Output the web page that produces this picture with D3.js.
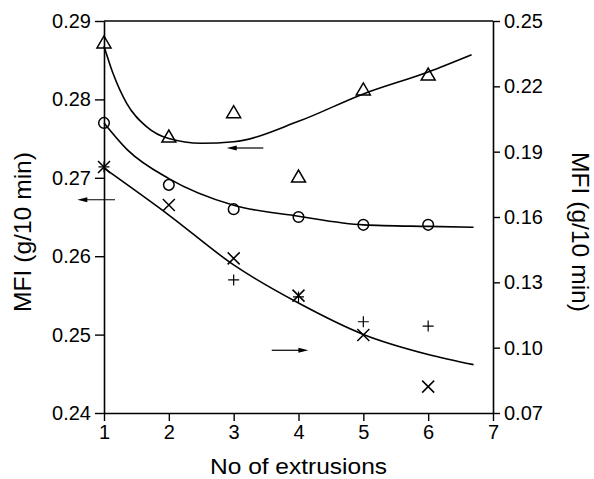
<!DOCTYPE html>
<html>
<head>
<meta charset="utf-8">
<script src="https://cdn.jsdelivr.net/npm/d3@7"></script>
<style>
  body { margin: 0; background: #fff; }
  svg { font-family: "Liberation Sans", Arial, sans-serif; }
</style>
</head>
<body>
<svg id="chart" width="594" height="479"></svg>
<script>
// measured data (left axis: triangles, circles; right axis: crosses, pluses)
var triX = [1, 2, 3, 4, 5, 6];
var triY = [0.2872, 0.2752, 0.2783, 0.2701, 0.2812, 0.2831];
var circX = [1, 2, 3, 4, 5, 6];
var circY = [0.2770, 0.2691, 0.2660, 0.2650, 0.2640, 0.2640];
var crossX = [1, 2, 3, 4, 5, 6];
var crossY = [0.1830, 0.1655, 0.1410, 0.1239, 0.1058, 0.0821];
var plusX = [1, 3, 4, 5, 6];
var plusY = [0.1830, 0.1311, 0.1233, 0.1119, 0.1099];

// fitted curves
var triFitX = [1, 1.14, 1.35, 1.66, 2, 2.5, 3, 4, 5, 6, 6.67];
var triFitY = [0.2868, 0.2833, 0.2795, 0.2765, 0.2750, 0.2744, 0.2746, 0.2772, 0.2807, 0.2835, 0.2857];
var circFitX = [1, 1.37, 2, 3, 4, 5, 6, 6.7];
var circFitY = [0.2770, 0.2735, 0.2699, 0.2665, 0.2651, 0.2640, 0.2638, 0.2637];
var crossFitX = [1, 2, 3, 4, 5, 6, 6.7];
var crossFitY = [0.1824, 0.1609, 0.1380, 0.1205, 0.1061, 0.0969, 0.0922];

// arrows: [x from, x to, y] in left-axis units (head at "to")
var arrows = [[3.457, 2.893, 0.2738], [1.17, 0.588, 0.2672], [3.587, 4.152, 0.2480]];

var xTicks = [1, 2, 3, 4, 5, 6, 7];
var leftTicks = [0.24, 0.25, 0.26, 0.27, 0.28, 0.29];
var rightTicks = [0.07, 0.10, 0.13, 0.16, 0.19, 0.22, 0.25];

var svg = d3.select("#chart");
var m = {left: 104, right: 493, top: 21, bottom: 413};

var x = d3.scaleLinear().domain([1, 7]).range([m.left, m.right]);
var yL = d3.scaleLinear().domain([0.24, 0.29]).range([m.bottom, m.top]);
var yR = d3.scaleLinear().domain([0.07, 0.25]).range([m.bottom, m.top]);

function styleAxis(g) {
    g.select(".domain").attr("stroke-width", 1.6);
    g.selectAll(".tick line").attr("stroke-width", 1.4);
    g.selectAll("text").attr("font-size", 20).attr("fill", "#000")
        .attr("font-family", "Liberation Sans, Arial, sans-serif");
}

svg.append("g").attr("transform", "translate(" + m.left + ",0)")
    .call(d3.axisLeft(yL).tickValues(leftTicks).tickFormat(d3.format(".2f")).tickSize(9).tickSizeOuter(0).tickPadding(4))
    .call(styleAxis);

svg.append("g").attr("transform", "translate(" + m.right + ",0)")
    .call(d3.axisRight(yR).tickValues(rightTicks).tickFormat(d3.format(".2f")).tickSize(7).tickSizeOuter(0).tickPadding(4))
    .call(styleAxis);

svg.append("g").attr("transform", "translate(0," + m.bottom + ")")
    .call(d3.axisBottom(x).tickValues(xTicks).tickFormat(d3.format("d")).tickSize(8).tickSizeOuter(0).tickPadding(4))
    .call(styleAxis);

// top frame line
svg.append("line")
    .attr("x1", m.left).attr("x2", m.right)
    .attr("y1", m.top).attr("y2", m.top)
    .attr("stroke", "#000").attr("stroke-width", 1.6);

// titles
svg.append("text")
    .attr("transform", "translate(" + (m.left + m.right) / 2 + ",474) ")
    .attr("text-anchor", "middle").attr("font-size", 22)
    .attr("textLength", 177).attr("lengthAdjust", "spacingAndGlyphs")
    .text("No of extrusions");

svg.append("text")
    .attr("transform", "translate(31,232) rotate(-90)")
    .attr("text-anchor", "middle").attr("font-size", 24)
    .attr("textLength", 160).attr("lengthAdjust", "spacingAndGlyphs")
    .text("MFI (g/10 min)");

svg.append("text")
    .attr("transform", "translate(572,232) rotate(90)")
    .attr("text-anchor", "middle").attr("font-size", 24)
    .attr("textLength", 160).attr("lengthAdjust", "spacingAndGlyphs")
    .text("MFI (g/10 min)");

// fitted curves
function fitLine(xs, ys, ys_scale) {
    var pts = xs.map(function(d, i) { return [x(d), ys_scale(ys[i])]; });
    svg.append("path")
        .attr("d", d3.line().curve(d3.curveMonotoneX)(pts))
        .attr("fill", "none").attr("stroke", "#000").attr("stroke-width", 1.6);
}
fitLine(triFitX, triFitY, yL);
fitLine(circFitX, circFitY, yL);
fitLine(crossFitX, crossFitY, yR);

// markers
var mk = svg.append("g").attr("fill", "none").attr("stroke", "#000").attr("stroke-width", 1.5);

triX.forEach(function(d, i) {
    var cx = x(d), cy = yL(triY[i]);
    mk.append("path").attr("d", "M" + (cx - 7) + "," + (cy + 5) + "L" + cx + "," + (cy - 7) + "L" + (cx + 7) + "," + (cy + 5) + "Z");
});
circX.forEach(function(d, i) {
    mk.append("circle").attr("cx", x(d)).attr("cy", yL(circY[i])).attr("r", 5.3);
});
crossX.forEach(function(d, i) {
    var cx = x(d), cy = yR(crossY[i]), s = 6;
    mk.append("path").attr("d", "M" + (cx - s) + "," + (cy - s) + "L" + (cx + s) + "," + (cy + s) +
        "M" + (cx - s) + "," + (cy + s) + "L" + (cx + s) + "," + (cy - s));
});
plusX.forEach(function(d, i) {
    var cx = x(d), cy = yR(plusY[i]), s = 5.5;
    mk.append("path").attr("stroke-width", 1.2)
        .attr("d", "M" + (cx - s) + "," + cy + "L" + (cx + s) + "," + cy + "M" + cx + "," + (cy - s) + "L" + cx + "," + (cy + s));
});

// arrows
arrows.forEach(function(a) {
    var x0 = x(a[0]), x1 = x(a[1]), yy = yL(a[2]);
    var dir = x1 > x0 ? 1 : -1;
    svg.append("line").attr("x1", x0).attr("x2", x1 - dir * 6).attr("y1", yy).attr("y2", yy)
        .attr("stroke", "#000").attr("stroke-width", 1.2);
    svg.append("path")
        .attr("d", "M" + x1 + "," + yy + "L" + (x1 - dir * 10) + "," + (yy - 2.5) + "L" + (x1 - dir * 10) + "," + (yy + 2.5) + "Z")
        .attr("fill", "#000");
});
</script>
</body>
</html>
